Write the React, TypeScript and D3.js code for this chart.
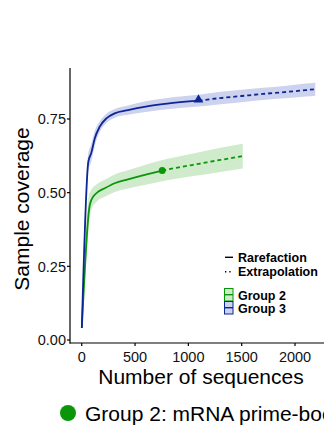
import React from "react";
import * as d3 from "d3";

// Group 3 (blue) - rarefaction + extrapolation
const g3RareX = [1, 62, 90, 122, 169, 231, 309, 434, 600, 800, 1095];
const g3RareY = [0.041, 0.605, 0.635, 0.684, 0.724, 0.752, 0.769, 0.78, 0.792, 0.802, 0.812];
const g3RareLo = [0.037, 0.575, 0.605, 0.659, 0.706, 0.736, 0.754, 0.764, 0.774, 0.783, 0.792];
const g3RareHi = [0.045, 0.635, 0.665, 0.709, 0.742, 0.768, 0.784, 0.796, 0.81, 0.821, 0.832];
const g3ExtX = [1095, 1300, 1500, 1700, 1900, 2100, 2190];
const g3ExtY = [0.812, 0.821, 0.828, 0.835, 0.841, 0.848, 0.851];
const g3ExtLo = [0.792, 0.8, 0.807, 0.814, 0.82, 0.826, 0.829];
const g3ExtHi = [0.832, 0.842, 0.849, 0.856, 0.862, 0.87, 0.873];

// Group 2 (green)
const g2RareX = [1, 59, 68, 90, 137, 216, 309, 434, 600, 755];
const g2RareY = [0.041, 0.407, 0.441, 0.475, 0.498, 0.515, 0.532, 0.545, 0.561, 0.575];
const g2RareLo = [0.037, 0.347, 0.391, 0.44, 0.468, 0.486, 0.502, 0.514, 0.527, 0.539];
const g2RareHi = [0.045, 0.467, 0.491, 0.51, 0.528, 0.544, 0.562, 0.576, 0.595, 0.611];
const g2ExtX = [755, 900, 1100, 1300, 1510];
const g2ExtY = [0.575, 0.585, 0.598, 0.611, 0.624];
const g2ExtLo = [0.539, 0.548, 0.559, 0.57, 0.582];
const g2ExtHi = [0.611, 0.622, 0.637, 0.652, 0.666];

const xTicks = [0, 500, 1000, 1500, 2000];
const yTicks = [0, 0.25, 0.5, 0.75];

const BLUE = "#0d2696";
const BLUE_BAND = "#cdd2ee";
const GREEN = "#0a960a";
const GREEN_BAND = "#d0ebcc";

type P = { x: number; y: number; lo: number; hi: number };
const pts = (xs: number[], ys: number[], lo: number[], hi: number[]): P[] =>
  xs.map((x, i) => ({ x, y: ys[i], lo: lo[i], hi: hi[i] }));

const App = () => {
  const W = 324;
  const H = 427;
  const x = d3.scaleLinear().domain([-110, 2300]).range([70, 327]);
  const y = d3.scaleLinear().domain([-0.0102, 0.923]).range([343, 68]);

  const line = d3
    .line<P>()
    .x((d) => x(d.x))
    .y((d) => y(d.y))
    .curve(d3.curveMonotoneX);
  const area = d3
    .area<P>()
    .x((d) => x(d.x))
    .y0((d) => y(d.lo))
    .y1((d) => y(d.hi))
    .curve(d3.curveMonotoneX);

  const g3r = pts(g3RareX, g3RareY, g3RareLo, g3RareHi);
  const g3e = pts(g3ExtX, g3ExtY, g3ExtLo, g3ExtHi);
  const g2r = pts(g2RareX, g2RareY, g2RareLo, g2RareHi);
  const g2e = pts(g2ExtX, g2ExtY, g2ExtLo, g2ExtHi);

  const font = "'Liberation Sans', Arial, sans-serif";
  const g3end = g3r[g3r.length - 1];
  const g2end = g2r[g2r.length - 1];

  return (
    <svg
      width={W}
      height={H}
      style={{ position: "absolute", left: 0, top: 0, overflow: "hidden", background: "#fff" }}
      fontFamily={font}
    >
      {/* bands */}
      <path d={area(g2r.concat(g2e.slice(1))) || ""} fill={GREEN_BAND} />
      <path d={area(g3r.concat(g3e.slice(1))) || ""} fill={BLUE_BAND} />
      {/* lines */}
      <path d={line(g2r) || ""} fill="none" stroke={GREEN} strokeWidth={1.8} />
      <path d={line(g2e) || ""} fill="none" stroke={GREEN} strokeWidth={1.8} strokeDasharray="4,3" />
      <path d={line(g3r) || ""} fill="none" stroke={BLUE} strokeWidth={1.8} />
      <path d={line(g3e) || ""} fill="none" stroke={BLUE} strokeWidth={1.8} strokeDasharray="4,3" />
      <circle cx={x(g2end.x)} cy={y(g2end.y)} r={3.5} fill={GREEN} />
      <path
        d={d3.symbol(d3.symbolTriangle, 40)() || ""}
        transform={`translate(${x(g3end.x)},${y(g3end.y) - 1})`}
        fill={BLUE}
      />

      {/* axes */}
      <line x1={70} x2={70} y1={68} y2={343.5} stroke="#000" strokeWidth={1.2} />
      <line x1={69.5} x2={W} y1={343} y2={343} stroke="#000" strokeWidth={1.2} />
      {yTicks.map((t) => (
        <g key={t}>
          <line x1={67} x2={70} y1={y(t)} y2={y(t)} stroke="#000" strokeWidth={1.2} />
          <text x={66} y={y(t) + 5.3} textAnchor="end" fontSize={14.5} fill="#111">
            {t.toFixed(2)}
          </text>
        </g>
      ))}
      {xTicks.map((t) => (
        <g key={t}>
          <line x1={x(t)} x2={x(t)} y1={343} y2={346} stroke="#000" strokeWidth={1.2} />
          <text x={x(t)} y={362} textAnchor="middle" fontSize={14.5} fill="#111">
            {t}
          </text>
        </g>
      ))}

      <text x={201} y={384} textAnchor="middle" fontSize={21} fill="#000">
        Number of sequences
      </text>
      <text
        transform="translate(29,209) rotate(-90)"
        textAnchor="middle"
        fontSize={21}
        fill="#000"
      >
        Sample coverage
      </text>

      {/* right legend */}
      <g fontSize={12.5} fontWeight="bold" fill="#000">
        <line x1={225} x2={233} y1={257.3} y2={257.3} stroke="#000" strokeWidth={1.4} />
        <text x={238} y={261.5}>Rarefaction</text>
        <line x1={225} x2={233} y1={271.7} y2={271.7} stroke="#000" strokeWidth={1.4} strokeDasharray="1.3,3" />
        <text x={238} y={275.5}>Extrapolation</text>

        <rect x={224.5} y={288.5} width={8.5} height={12.5} fill={GREEN_BAND} stroke={GREEN} strokeWidth={1} />
        <line x1={224.5} x2={233} y1={294.7} y2={294.7} stroke={GREEN} strokeWidth={1.4} />
        <text x={238} y={300}>Group 2</text>
        <rect x={224.5} y={301.5} width={8.5} height={12.5} fill={BLUE_BAND} stroke={BLUE} strokeWidth={1} />
        <line x1={224.5} x2={233} y1={307.7} y2={307.7} stroke={BLUE} strokeWidth={1.4} />
        <text x={238} y={313}>Group 3</text>
      </g>

      {/* bottom legend */}
      <circle cx={68} cy={413} r={8} fill="#0a960a" />
      <text x={85} y={420.5} fontSize={21} fill="#000">
        Group 2: mRNA prime-boost
      </text>
    </svg>
  );
};

export default App;
